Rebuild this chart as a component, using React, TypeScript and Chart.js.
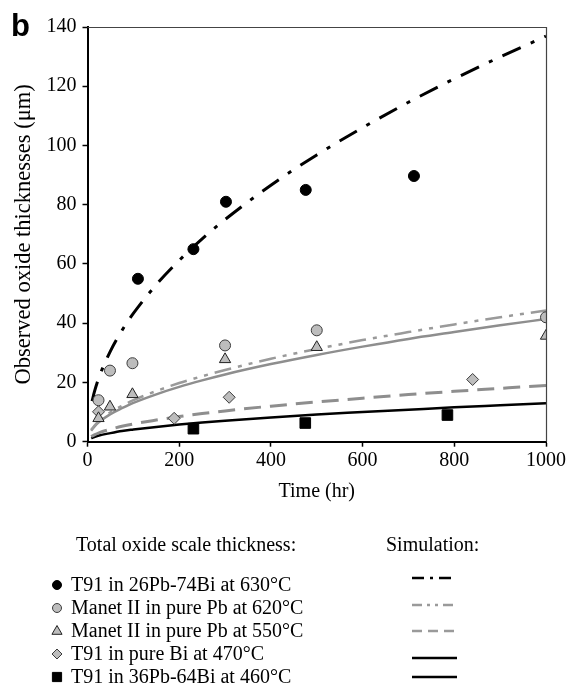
import React, { useEffect, useRef } from "react";
import { Chart, registerables } from "chart.js";

Chart.register(...registerables);

// ---------- data ----------
const obsT91PbBi630Time = [110, 231, 302, 476, 712];
const obsT91PbBi630 = [55, 65, 81, 85, 89.7];
const obsManet620Time = [24, 49, 98, 300, 500, 1000];
const obsManet620 = [14, 24, 26.5, 32.5, 37.6, 42];
const obsManet550Time = [24, 49, 98, 300, 500, 1000];
const obsManet550 = [7.9, 11.8, 16, 27.8, 31.9, 35.7];
const obsT91Bi470Time = [24, 189, 309, 840];
const obsT91Bi470 = [10.1, 7.9, 15, 21];
const obsT91PbBi460Time = [231, 475, 785];
const obsT91PbBi460 = [4.4, 6.3, 9];

const simTimesHigh = [10, 15, 25, 50, 75, 100, 150, 200, 250, 300, 400, 500, 600, 700, 800, 900, 1000];
const simT91PbBi630 = [13.7, 16.8, 21.7, 30.6, 37.5, 43.3, 53.0, 61.2, 68.5, 75.0, 86.6, 96.8, 106.0, 114.6, 122.5, 129.9, 136.9];
const simTimes = [8, 15, 25, 50, 75, 100, 150, 200, 250, 300, 400, 500, 600, 700, 800, 900, 1000];
const simManet620 = [4.0, 5.4, 7.0, 9.9, 12.1, 14.0, 17.1, 19.8, 22.1, 24.2, 28.0, 31.3, 34.3, 37.0, 39.6, 42.0, 44.3];
const simManet550 = [3.7, 5.1, 6.6, 9.3, 11.3, 13.1, 16.0, 18.5, 20.7, 22.7, 26.2, 29.3, 32.1, 34.7, 37.0, 39.3, 41.4];
const simT91Bi470 = [1.7, 2.3, 3.0, 4.2, 5.2, 6.0, 7.3, 8.5, 9.5, 10.4, 12.0, 13.4, 14.7, 15.9, 17.0, 18.0, 19.0];
const simT91PbBi460 = [1.2, 1.6, 2.1, 2.9, 3.6, 4.1, 5.0, 5.8, 6.5, 7.1, 8.2, 9.2, 10.0, 10.8, 11.6, 12.3, 13.0];

const xTickValues = [0, 200, 400, 600, 800, 1000];
const yTickValues = [0, 20, 40, 60, 80, 100, 120, 140];

const seriesLabels = [
  "T91 in 26Pb-74Bi at 630°C",
  "Manet II in pure Pb at 620°C",
  "Manet II in pure Pb at 550°C",
  "T91 in pure Bi at 470°C",
  "T91 in 36Pb-64Bi at 460°C",
];
const panelLabel = "b";
const xTitle = "Time (hr)";
const yTitle = "Observed oxide thicknesses (μm)";
const obsLegendTitle = "Total oxide scale thickness:";
const simLegendTitle = "Simulation:";

// ---------- styles ----------
const SERIF = "'Liberation Serif', 'Times New Roman', serif";
const FS = 20;
const GRAY_FILL = "#bdbdbd";
const GRAY_EDGE = "#3c3c3c";
const GRAY_LINE = "#8e8e8e";

const markerStyles = [
  { shape: "circle", fill: "#000", stroke: "#000", r: 5.5, lr: 4.5 },
  { shape: "circle", fill: GRAY_FILL, stroke: GRAY_EDGE, r: 5.5, lr: 4.5 },
  { shape: "triangle", fill: GRAY_FILL, stroke: "#222", r: 6.5, lr: 5.5 },
  { shape: "diamond", fill: GRAY_FILL, stroke: GRAY_EDGE, r: 6, lr: 5 },
  { shape: "square", fill: "#000", stroke: "#000", r: 7.5, lr: 6.5 },
];
const simStyles = [
  { color: "#000", width: 3, dash: [20, 11, 4, 11] },
  { color: "#9a9a9a", width: 2.5, dash: [17, 7, 4, 7, 4, 7] },
  { color: GRAY_LINE, width: 2.5, dash: [] as number[] },
  { color: GRAY_LINE, width: 3, dash: [17, 9] },
  { color: "#000", width: 2.5, dash: [] as number[] },
];
const legendSimStyles = [
  { color: "#000", width: 2.5, dash: [12, 6, 3, 6] },
  { color: "#9a9a9a", width: 2.5, dash: [10, 5, 3, 5, 3, 5] },
  { color: "#9a9a9a", width: 2.5, dash: [10, 6] },
  { color: "#000", width: 2.5, dash: [] as number[] },
  { color: "#000", width: 2.5, dash: [] as number[] },
];

const toPts = (xs: number[], ys: number[]) => xs.map((x, i) => ({ x, y: ys[i] }));

function drawMarker(ctx: CanvasRenderingContext2D, shape: string, x: number, y: number, r: number, fill: string, stroke: string) {
  ctx.save();
  ctx.beginPath();
  if (shape === "circle") {
    ctx.arc(x, y, r, 0, Math.PI * 2);
  } else if (shape === "triangle") {
    ctx.moveTo(x, y - r);
    ctx.lineTo(x + r * 0.92, y + r * 0.6);
    ctx.lineTo(x - r * 0.92, y + r * 0.6);
    ctx.closePath();
  } else if (shape === "diamond") {
    ctx.moveTo(x, y - r);
    ctx.lineTo(x + r, y);
    ctx.lineTo(x, y + r);
    ctx.lineTo(x - r, y);
    ctx.closePath();
  } else {
    const s = r * Math.SQRT1_2;
    ctx.rect(x - s, y - s, 2 * s, 2 * s);
  }
  ctx.fillStyle = fill;
  ctx.fill();
  ctx.lineWidth = 1;
  ctx.strokeStyle = stroke;
  ctx.stroke();
  ctx.restore();
}

const decorPlugin = {
  id: "decor",
  afterDraw(chart: any) {
    const ctx: CanvasRenderingContext2D = chart.ctx;
    const a = chart.chartArea;
    ctx.save();
    // top & right frame
    ctx.strokeStyle = "#444";
    ctx.lineWidth = 1.2;
    ctx.beginPath();
    ctx.moveTo(a.left, a.top + 0.5);
    ctx.lineTo(a.right + 0.5, a.top + 0.5);
    ctx.lineTo(a.right + 0.5, a.bottom);
    ctx.stroke();

    // panel label
    ctx.fillStyle = "#000";
    ctx.font = `bold 31px 'Liberation Sans', Arial, sans-serif`;
    ctx.textBaseline = "alphabetic";
    ctx.textAlign = "left";
    ctx.fillText(panelLabel, 11, 36);

    // legend
    ctx.font = `${FS}px ${SERIF}`;
    ctx.textBaseline = "middle";
    ctx.fillText(obsLegendTitle, 76, 546);
    ctx.fillText(simLegendTitle, 386, 546);
    const rowY = [585, 608, 631, 654, 677];
    const simY = [578, 605, 631, 658, 677];
    seriesLabels.forEach((lab, i) => {
      const m = markerStyles[i];
      drawMarker(ctx, m.shape, 57, rowY[i], m.lr, m.fill, m.stroke);
      ctx.fillStyle = "#000";
      ctx.fillText(lab, 71, rowY[i] + 1);
      const s = legendSimStyles[i];
      ctx.save();
      ctx.strokeStyle = s.color;
      ctx.lineWidth = s.width;
      ctx.setLineDash(s.dash);
      ctx.beginPath();
      ctx.moveTo(412, simY[i]);
      ctx.lineTo(457, simY[i]);
      ctx.stroke();
      ctx.restore();
    });
    ctx.restore();
  },
};

export default function App() {
  const ref = useRef<HTMLCanvasElement | null>(null);
  useEffect(() => {
    if (!ref.current) return;
    const obsSets = [
      toPts(obsT91PbBi630Time, obsT91PbBi630),
      toPts(obsManet620Time, obsManet620),
      toPts(obsManet550Time, obsManet550),
      toPts(obsT91Bi470Time, obsT91Bi470),
      toPts(obsT91PbBi460Time, obsT91PbBi460),
    ];
    const simSets = [
      toPts(simTimesHigh, simT91PbBi630),
      toPts(simTimes, simManet620),
      toPts(simTimes, simManet550),
      toPts(simTimes, simT91Bi470),
      toPts(simTimes, simT91PbBi460),
    ];
    const chartStyles: Record<string, string> = { circle: "circle", triangle: "triangle", diamond: "rectRot", square: "rect" };
    const datasets: any[] = [];
    simSets.forEach((d, i) => {
      const s = simStyles[i];
      datasets.push({
        type: "line",
        label: "sim " + seriesLabels[i],
        data: d,
        showLine: true,
        borderColor: s.color,
        borderWidth: s.width,
        borderDash: s.dash,
        pointRadius: 0,
        cubicInterpolationMode: "monotone",
        fill: false,
        order: 2,
      });
    });
    obsSets.forEach((d, i) => {
      const m = markerStyles[i];
      datasets.push({
        type: "scatter",
        label: seriesLabels[i],
        data: d,
        showLine: false,
        pointStyle: chartStyles[m.shape],
        pointRadius: m.r,
        pointBackgroundColor: m.fill,
        pointBorderColor: m.stroke,
        pointBorderWidth: 1,
        order: 1,
      });
    });

    const tickFont = { family: SERIF, size: FS };
    const chart = new Chart(ref.current, {
      type: "scatter",
      data: { datasets },
      options: {
        animation: false,
        responsive: false,
        events: [],
        layout: { padding: { left: 0, top: 27, right: 28, bottom: 178.3 } },
        plugins: { legend: { display: false }, tooltip: { enabled: false } },
        scales: {
          x: {
            type: "linear",
            min: 0,
            max: 1000,
            afterFit: (s: any) => { s.height = 70; },
            afterBuildTicks: (s: any) => { s.ticks = xTickValues.map((v) => ({ value: v })); },
            ticks: { color: "#000", font: tickFont, padding: 2, maxRotation: 0, callback: (v: any) => String(v) },
            grid: { drawOnChartArea: false, drawTicks: true, tickLength: 5, tickColor: "#000", tickWidth: 1.5 },
            border: { display: true, color: "#000", width: 2 },
            title: { display: true, text: xTitle, color: "#000", font: tickFont, padding: { top: 0, bottom: 7.7 } },
          },
          y: {
            type: "linear",
            min: 0,
            max: 140,
            afterFit: (s: any) => { s.width = 87.5; },
            afterBuildTicks: (s: any) => { s.ticks = yTickValues.map((v) => ({ value: v })); },
            ticks: { color: "#000", font: tickFont, padding: 6, callback: (v: any) => String(v) },
            grid: { drawOnChartArea: false, drawTicks: true, tickLength: 5, tickColor: "#000", tickWidth: 1.5 },
            border: { display: true, color: "#000", width: 2 },
            title: { display: true, text: yTitle, color: "#000", font: { family: SERIF, size: 22.5 }, padding: { top: 10.5, bottom: 0 } },
          },
        },
      } as any,
      plugins: [decorPlugin],
    });
    return () => chart.destroy();
  }, []);

  return (
    <div style={{ position: "absolute", left: 0, top: 0, width: 574, height: 690, background: "#fff" }}>
      <canvas ref={ref} width={574} height={690} style={{ display: "block" }} />
    </div>
  );
}
